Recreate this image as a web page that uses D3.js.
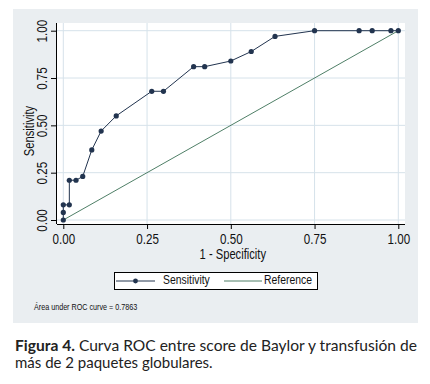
<!DOCTYPE html>
<html>
<head>
<meta charset="utf-8">
<script src="https://cdn.jsdelivr.net/npm/d3@7.9.0/dist/d3.min.js"></script>
<style>
  body { margin: 0; background: #fff; }
  .narrow { font-family: "Liberation Sans", Arial, sans-serif; }
</style>
</head>
<body>
<div id="chart"></div>
<script>
// ROC points
const specComp = [0, 0, 0, 0.018, 0.018, 0.038, 0.058, 0.085, 0.113, 0.158, 0.264, 0.299,
  0.389, 0.422, 0.5, 0.561, 0.632, 0.75, 0.883, 0.922, 0.978, 1];
const sensitivity = [0, 0.04, 0.08, 0.08, 0.21, 0.21, 0.23, 0.37, 0.47, 0.55, 0.68, 0.68,
  0.81, 0.81, 0.84, 0.89, 0.97, 1, 1, 1, 1, 1];
const refLine = [0, 1];
const tickVals = [0, 0.25, 0.5, 0.75, 1];
const legendLabels = ["Sensitivity", "Reference"];
const aucText = "Área under ROC curve = 0.7863";
const captionBold = "Figura 4.";
const captionLine1 = " Curva ROC entre score de Baylor y transfusión de";
const captionLine2 = "más de 2 paquetes globulares.";

const width = 430, height = 384;
const navy = "#22344f", green = "#4f7f67", grid = "#d6e2ea";
const squeeze = 0.8; // no narrow font installed, so condense by hand

const svg = d3.select("#chart").append("svg")
  .attr("width", width)
  .attr("height", height);

// narrow text placed at (tx, ty), optional rotation
function narrowText(parent, str, tx, ty, size, anchor, rot) {
  return parent.append("text")
    .attr("class", "narrow")
    .attr("transform", `translate(${tx},${ty})${rot ? ` rotate(${rot})` : ""} scale(${squeeze},1)`)
    .attr("text-anchor", anchor || "start")
    .attr("dominant-baseline", "middle")
    .attr("font-size", size).attr("fill", "#111")
    .text(str);
}

// gray graph region
svg.append("rect")
  .attr("x", 13).attr("y", 9)
  .attr("width", 405).attr("height", 314)
  .attr("fill", "#eaeef1");

// plot region
const plot = { left: 57, right: 405, top: 23, bottom: 224 };
svg.append("rect")
  .attr("x", plot.left).attr("y", plot.top)
  .attr("width", plot.right - plot.left).attr("height", plot.bottom - plot.top)
  .attr("fill", "#fff");

const x = d3.scaleLinear().domain([0, 1]).range([63.3, 398.3]);
const y = d3.scaleLinear().domain([0, 1]).range([220, 30.7]);

// grid lines
svg.selectAll(".vgrid")
  .data(tickVals)
  .enter().append("line")
  .attr("x1", d => x(d)).attr("x2", d => x(d))
  .attr("y1", plot.top).attr("y2", plot.bottom)
  .attr("stroke", grid).attr("stroke-width", 1);

svg.selectAll(".hgrid")
  .data(tickVals)
  .enter().append("line")
  .attr("x1", plot.left).attr("x2", plot.right)
  .attr("y1", d => y(d)).attr("y2", d => y(d))
  .attr("stroke", grid).attr("stroke-width", 1);

// axes
const fmt = d3.format(".2f");
const xAxis = svg.append("g")
  .attr("class", "narrow")
  .attr("transform", `translate(0,${plot.bottom})`)
  .call(d3.axisBottom(x).tickValues(tickVals).tickFormat(fmt).tickSize(5).tickPadding(3));
xAxis.select(".domain").attr("d", `M${plot.left},0.5H${plot.right}`).attr("stroke", "#000");
xAxis.selectAll("text")
  .attr("font-size", 14.5).attr("fill", "#111").style("font-family", "inherit")
  .attr("y", null).attr("dy", null)
  .attr("dominant-baseline", "middle")
  .attr("transform", `translate(0,16) scale(${squeeze},1)`);

const yAxis = svg.append("g")
  .attr("class", "narrow")
  .attr("transform", `translate(${plot.left},0)`)
  .call(d3.axisLeft(y).tickValues(tickVals).tickFormat(fmt).tickSize(6).tickPadding(3));
yAxis.select(".domain").attr("d", `M-0.5,${plot.top}V${plot.bottom}`).attr("stroke", "#000");
yAxis.selectAll("text")
  .attr("font-size", 14.5).attr("fill", "#111").style("font-family", "inherit")
  .attr("text-anchor", "middle")
  .attr("dy", null)
  .attr("x", null)
  .attr("transform", `translate(-14,0) rotate(-90) scale(${squeeze},1)`)
  .attr("dominant-baseline", "middle");

narrowText(svg, "Sensitivity", 30, 131, 14, "middle", -90);
narrowText(svg, "1 - Specificity", x(0.5) + 2, 255, 14, "middle");

// reference line
svg.append("path")
  .datum(refLine)
  .attr("d", d3.line().x(d => x(d)).y(d => y(d)))
  .attr("fill", "none").attr("stroke", green).attr("stroke-width", 1);

// ROC curve
const roc = specComp.map((d, i) => ({ x: d, y: sensitivity[i] }));
svg.append("path")
  .datum(roc)
  .attr("d", d3.line().x(d => x(d.x)).y(d => y(d.y)))
  .attr("fill", "none").attr("stroke", navy).attr("stroke-width", 1);

svg.selectAll(".pt")
  .data(roc)
  .enter().append("circle")
  .attr("cx", d => x(d.x)).attr("cy", d => y(d.y))
  .attr("r", 2.6).attr("fill", navy);

// legend
const lg = svg.append("g");
lg.append("rect")
  .attr("x", 114.5).attr("y", 272.5).attr("width", 203).attr("height", 17)
  .attr("fill", "#fff").attr("stroke", "#000").attr("stroke-width", 1);
lg.append("line").attr("x1", 116).attr("x2", 155).attr("y1", 281).attr("y2", 281)
  .attr("stroke", navy);
lg.append("circle").attr("cx", 135.5).attr("cy", 281).attr("r", 2.4).attr("fill", navy);
lg.append("line").attr("x1", 224).attr("x2", 262).attr("y1", 281).attr("y2", 281)
  .attr("stroke", green);
legendLabels.forEach((d, i) => narrowText(lg, d, i === 0 ? 163 : 264, 280.5, 13, "start"));

narrowText(svg, aucText, 34, 308, 9, "start");

// caption
const cap = svg.append("text")
  .attr("x", 15).attr("y", 351)
  .attr("font-family", "Lato, 'Open Sans', sans-serif")
  .attr("font-size", 15).attr("fill", "#222")
  .attr("textLength", 402).attr("lengthAdjust", "spacingAndGlyphs");
cap.append("tspan").attr("font-weight", "bold").text(captionBold);
cap.append("tspan").text(captionLine1);
svg.append("text")
  .attr("x", 15).attr("y", 368)
  .attr("font-family", "Lato, 'Open Sans', sans-serif")
  .attr("font-size", 15).attr("fill", "#222")
  .text(captionLine2);
</script>
</body>
</html>
